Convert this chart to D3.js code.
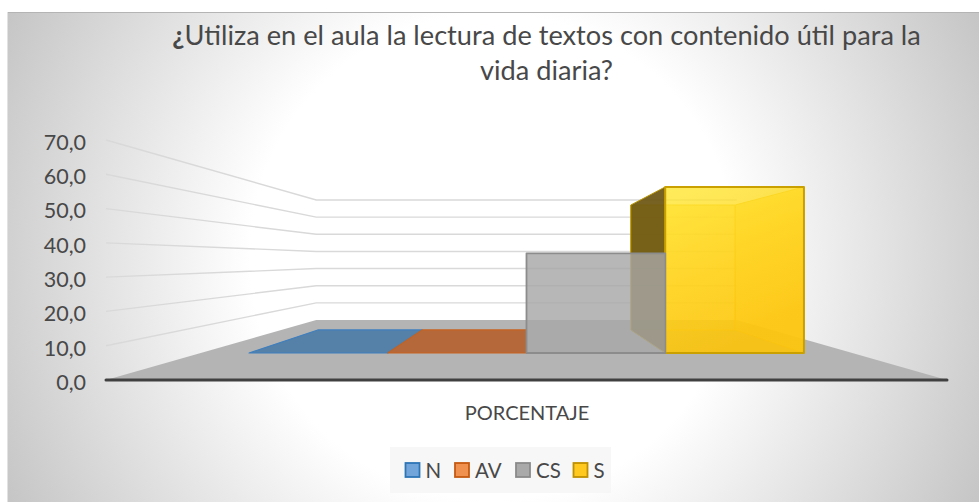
<!DOCTYPE html>
<html>
  <head>
    <meta charset="utf-8" />
    <title>Lectura de textos</title>
    <script src="https://d3js.org/d3.v7.min.js"></script>
    <style>
      html, body { margin: 0; padding: 0; background: #fff; }
      svg { display: block; }
      text { font-family: Lato, "Open Sans", sans-serif; fill: #484848; }
    </style>
  </head>
  <body>
    <div id="chart"></div>
    <script>
      // data
      var categories = ["N", "AV", "CS", "S"];
      var values = [0, 0, 37.5, 62.5];
      var axisTicks = [0, 10, 20, 30, 40, 50, 60, 70];
      var axisName = "PORCENTAJE";
      var titleLines = ["Utiliza en el aula la lectura de textos con contenido útil para la", "vida diaria?"];
      var barFills = ["#5580a8", "#b5693a", "#a8a8a8", "#ffd21f"];
      var barStrokes = ["#3f7fbd", "#c5621f", "#8c8c8c", "#c9a000"];
      var swatchFills = ["#72a5da", "#f0914f", "#a9a9a9", "#ffc91f"];
      var swatchStrokes = ["#2e75b6", "#c55a11", "#8a8a8a", "#bf9000"];

      var width = 979;
      var height = 502;

      var svg = d3.select("#chart").append("svg").attr("width", width).attr("height", height);
      var defs = svg.append("defs");

      var bgGrad = defs.append("radialGradient").attr("id", "bg")
        .attr("gradientUnits", "userSpaceOnUse")
        .attr("cx", 493).attr("cy", 257).attr("r", 540);
      bgGrad.append("stop").attr("offset", 0.45).attr("stop-color", "#ffffff");
      bgGrad.append("stop").attr("offset", 1).attr("stop-color", "#c6c6c6");

      var frontGrad = defs.append("linearGradient").attr("id", "yellowFront")
        .attr("x1", 0).attr("y1", 0).attr("x2", 0.35).attr("y2", 1);
      frontGrad.append("stop").attr("offset", 0).attr("stop-color", "#ffe833");
      frontGrad.append("stop").attr("offset", 0.55).attr("stop-color", "#ffd21a");
      frontGrad.append("stop").attr("offset", 1).attr("stop-color", "#fcc40c");

      svg.append("rect")
        .attr("x", 7.5).attr("y", 12.5)
        .attr("width", width).attr("height", height)
        .attr("fill", "url(#bg)")
        .attr("stroke", "#e2e2e2");
      svg.append("line").attr("x1", 8).attr("x2", width).attr("y1", 12.5).attr("y2", 12.5).attr("stroke", "#b4b4b4");

      // 3d box: vanishing point plus a depth factor, 1 is the front of the floor
      var cx = 526.5;
      var cy = 260;
      var wallBack = 0.5;
      var barFront = 0.775;
      var barBack = 0.583;

      var y = d3.scaleLinear().domain([0, 70]).range([380, 140]);
      var x = d3.scaleBand().domain(categories).range([-358, 358]);
      var floorHalf = 420.5;

      function project(px, v, s) {
        return [cx + px * s, cy + (y(v) - cy) * s];
      }
      var line = d3.line();

      function poly(g, points, fill, opacity, stroke, strokeWidth) {
        return g.append("path")
          .attr("d", line(points) + "Z")
          .attr("fill", fill)
          .attr("fill-opacity", opacity)
          .attr("stroke", stroke || "none")
          .attr("stroke-width", strokeWidth || 0)
          .attr("stroke-linejoin", "round");
      }

      // floor
      poly(svg, [project(-floorHalf, 0, 1), project(floorHalf, 0, 1), project(floorHalf, 0, wallBack), project(-floorHalf, 0, wallBack)], "#b4b4b4", 1);

      // grid on left and back wall
      var grid = svg.append("g").attr("fill", "none").attr("stroke", "#d9d9d9").attr("stroke-width", 1.4);
      axisTicks.slice(1).forEach(function (t) {
        grid.append("path").attr("d", line([project(-floorHalf, t, 1), project(-floorHalf, t, wallBack), project(floorHalf, t, wallBack)]));
      });

      // bars, back faces first
      var bars = svg.append("g");
      var order = [0, 1, 3, 2];
      order.forEach(function (i) {
        var c = categories[i];
        var x0 = x(c);
        var x1 = x0 + x.bandwidth();
        var v = values[i];
        var g = bars.append("g");
        var fill = barFills[i];
        var stroke = barStrokes[i];

        if (v === 0) {
          poly(g, [project(x0, 0, barFront), project(x1, 0, barFront), project(x1, 0, barBack), project(x0, 0, barBack)], fill, 1, stroke, 1.2);
          return;
        }
        if (c === "S") {
          poly(g, [project(x0, v, barBack), project(x1, v, barBack), project(x1, 0, barBack), project(x0, 0, barBack)], fill, 0.62, "#eec21a", 1);
          poly(g, [project(x0, 0, barFront), project(x1, 0, barFront), project(x1, 0, barBack), project(x0, 0, barBack)], "#f6c000", 0.55);
          poly(g, [project(x0, v, barBack), project(x0, v, barFront), project(x0, 0, barFront), project(x0, 0, barBack)], "#6b5510", 0.92, "#b89400", 1);
          poly(g, [project(x1, v, barBack), project(x1, v, barFront), project(x1, 0, barFront), project(x1, 0, barBack)], "#ffcf1a", 0.75, "#eec21a", 1);
          poly(g, [project(x0, v, barFront), project(x1, v, barFront), project(x1, 0, barFront), project(x0, 0, barFront)], "url(#yellowFront)", 0.8, stroke, 2);
        } else {
          poly(g, [project(x0, v, barBack), project(x1, v, barBack), project(x1, 0, barBack), project(x0, 0, barBack)], fill, 0.12);
          poly(g, [project(x0, v, barFront), project(x1, v, barFront), project(x1, 0, barFront), project(x0, 0, barFront)], fill, 0.8, stroke, 1.8);
        }
      });

      // base line
      svg.append("line")
        .attr("x1", 106).attr("x2", 947)
        .attr("y1", y(0)).attr("y2", y(0))
        .attr("stroke", "#404040").attr("stroke-width", 3).attr("stroke-linecap", "round");

      // value axis
      var comma = d3.formatLocale({ decimal: ",", thousands: ".", grouping: [3], currency: ["", "€"] }).format(".1f");
      var axis = svg.append("g")
        .attr("transform", "translate(86,2.5)")
        .call(d3.axisLeft(y).tickValues(axisTicks).tickFormat(comma).tickSize(0).tickPadding(0));
      axis.select(".domain").remove();
      axis.selectAll("text").attr("font-size", 21.5).style("font-family", "Lato, sans-serif");

      svg.append("text")
        .attr("x", 527).attr("y", 420)
        .attr("text-anchor", "middle")
        .attr("font-size", 20)
        .text(axisName);

      // title
      var title = svg.append("g").attr("font-size", 27.2);
      var first = title.append("text").attr("x", 546.5).attr("y", 44.5).attr("text-anchor", "middle");
      first.append("tspan").attr("font-weight", 700).text("¿");
      first.append("tspan").text(titleLines[0]);
      title.append("text").attr("x", 546.5).attr("y", 79.5).attr("text-anchor", "middle").text(titleLines[1]);

      // legend
      var legendX = [405.5, 455, 516, 573.5];
      svg.append("rect")
        .attr("x", 390).attr("y", 447).attr("width", 221).attr("height", 46)
        .attr("fill", "#f5f5f5").attr("fill-opacity", 0.8);
      var legend = svg.append("g").selectAll("g").data(categories).enter().append("g")
        .attr("transform", function (d, i) { return "translate(" + legendX[i] + ",463)"; });
      legend.append("rect")
        .attr("width", 14).attr("height", 14)
        .attr("fill", function (d, i) { return swatchFills[i]; })
        .attr("stroke", function (d, i) { return swatchStrokes[i]; })
        .attr("stroke-width", 1.8);
      legend.append("text")
        .attr("x", 20).attr("y", 14.5)
        .attr("font-size", 20.5)
        .text(function (d) { return d; });
    </script>
  </body>
</html>
